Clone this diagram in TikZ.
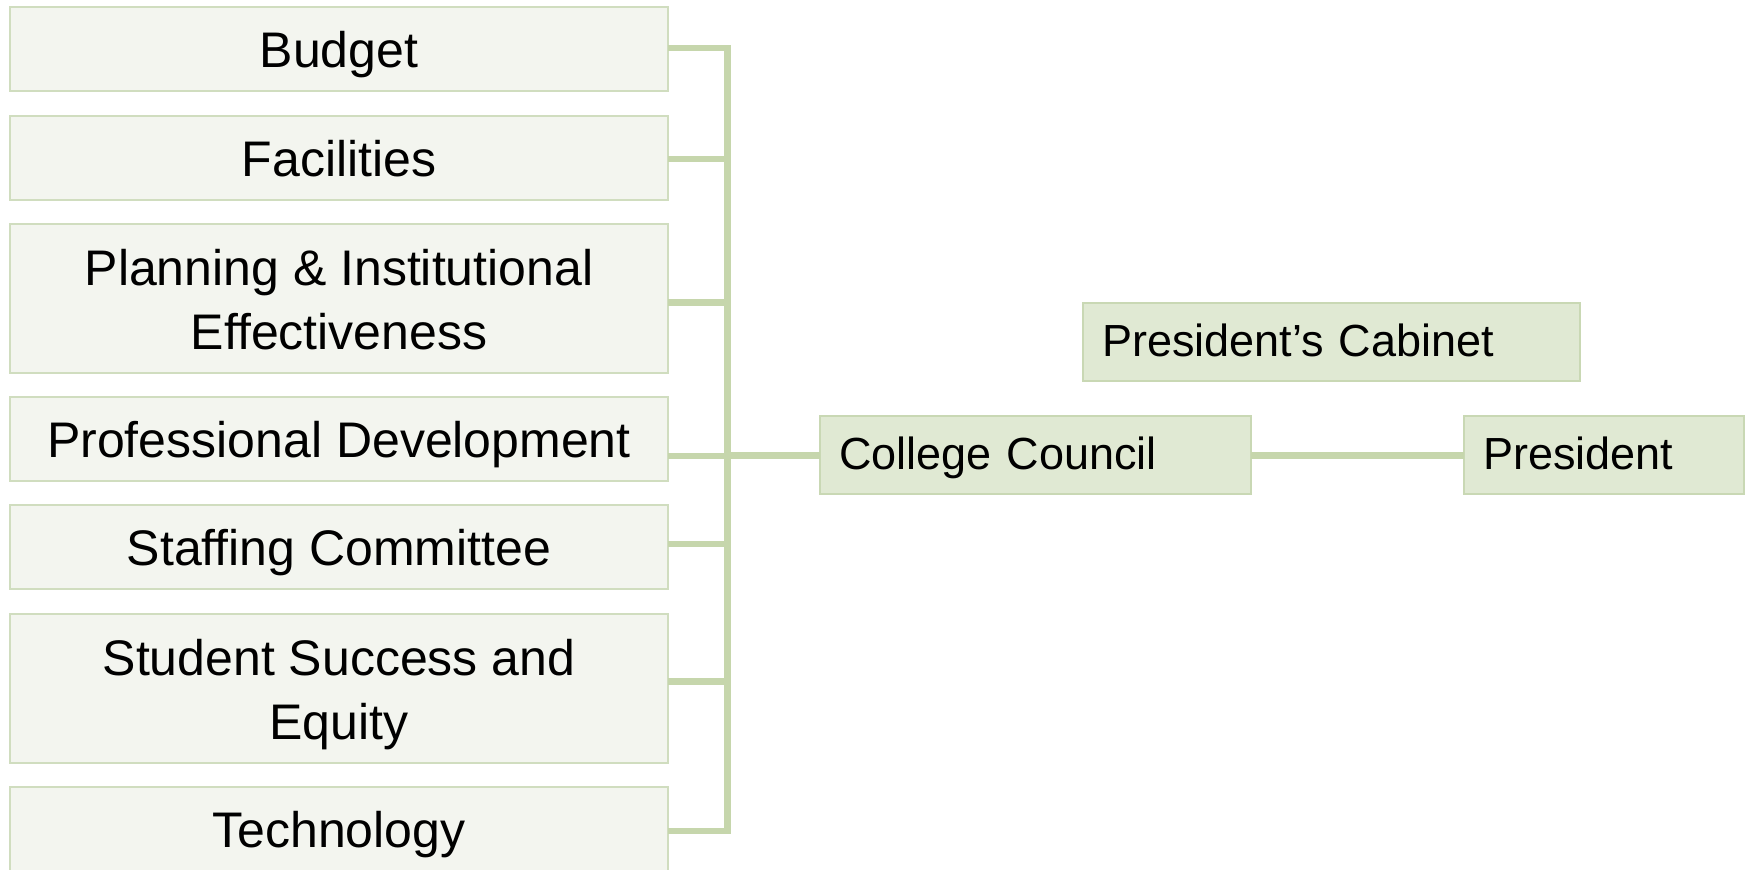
\documentclass[tikz,border=0pt]{standalone}
\usepackage{fontspec}
\setmainfont{Liberation Sans}
\usetikzlibrary{calc}
\definecolor{lfill}{RGB}{243,245,239}
\definecolor{lborder}{RGB}{208,221,191}
\definecolor{rfill}{RGB}{224,233,211}
\definecolor{rborder}{RGB}{201,216,180}
\definecolor{connc}{RGB}{198,214,172}
\newcommand{\topstrut}{\rule{0pt}{26pt}}
\newcommand{\botstrut}{\rule[-6.6pt]{0pt}{6.6pt}}
\begin{document}
\begin{tikzpicture}[x=0.5pt,y=-0.5pt,
  lbox/.style={draw=lborder,fill=lfill,line width=1pt,rectangle,inner sep=0pt,outer sep=0pt,
    minimum width=329pt,minimum height=42pt,align=center,
    font=\fontsize{25}{32}\selectfont},
  lone/.style={lbox,text height=25pt,text depth=6.1pt},
  ltwo/.style={lbox,minimum height=74.5pt},
  rbox/.style={draw=rborder,fill=rfill,line width=1pt,rectangle,inner ysep=0pt,outer sep=0pt,
    minimum height=39pt,align=left,inner xsep=9.5pt,
    font=\fontsize{22.5}{27}\selectfont,text height=20pt,text depth=5.9pt},
  conn/.style={draw=connc,line width=3.3pt}]
\useasboundingbox (0,0) rectangle (1748,870);
% left boxes
\node[lone] (budget) at (339,49) {Budget};
\node[lone] (fac) at (339,158) {Facilities};
\node[ltwo] (plan) at (339,298.5) {\topstrut Planning \& Institutional\\Effectiveness\botstrut};
\node[lone] (prof) at (339,439) {Professional Development};
\node[lone] (staff) at (339,547) {Staffing Committee};
\node[ltwo] (stud) at (339,688.5) {\topstrut Student Success and\\Equity\botstrut};
\node[lone] (tech) at (339,829) {Technology};
% right boxes
\node[rbox,text width=196.5pt] (cc) at (1035.5,455.5) {College Council};
\node[rbox,text width=121pt] (pres) at (1604,455.5) {President};
\node[rbox,text width=229.5pt] (cab) at (1331.5,342) {President’s Cabinet};
% bus
\coordinate (bustop) at (727.5,48);
\coordinate (busbot) at (727.5,831);
\draw[conn] ($(budget.east)+(0,-1)$) -- (bustop) -- (busbot) -- ($(tech.east)+(0,2)$);
\draw[conn] ($(fac.east)+(0,1)$) -| (bustop);
\draw[conn] ($(plan.east)+(0,4)$) -| (bustop);
\draw[conn] ($(prof.east)+(0,17)$) -| (bustop);
\draw[conn] ($(staff.east)+(0,-3)$) -| (bustop);
\draw[conn] ($(stud.east)+(0,-7)$) -| (bustop);
\draw[conn] (bustop |- cc.west) -- (cc.west);
\draw[conn] (cc.east) -- (pres.west);
\end{tikzpicture}
\end{document}
